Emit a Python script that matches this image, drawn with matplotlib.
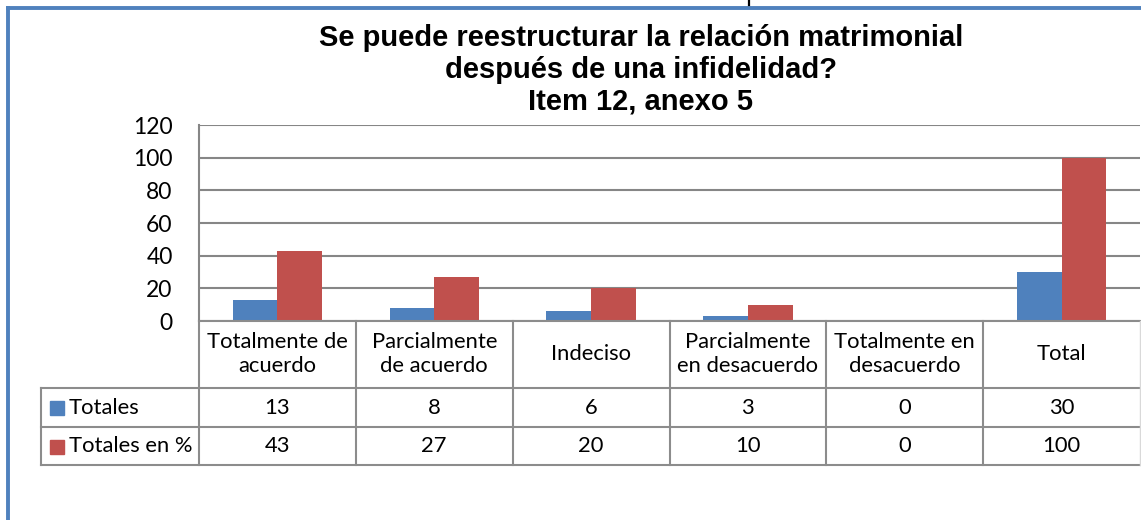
import numpy as np
import matplotlib
matplotlib.use("Agg")
import matplotlib.pyplot as plt
from matplotlib.lines import Line2D
from matplotlib.patches import Rectangle

# ---- data ----
categories = ["Totalmente de\nacuerdo", "Parcialmente\nde acuerdo", "Indeciso",
              "Parcialmente\nen desacuerdo", "Totalmente en\ndesacuerdo", "Total"]
series_names = ["Totales", "Totales en %"]
totales = [13, 8, 6, 3, 0, 30]
totales_pct = [43, 27, 20, 10, 0, 100]
yticks = [0, 20, 40, 60, 80, 100, 120]
title = "Se puede reestructurar la relación matrimonial\ndespués de una infidelidad?\nItem 12, anexo 5"

BLUE = "#4F81BD"
RED = "#C0504D"
GRID = "#868686"
TFONT = ["Lato", "DejaVu Sans"]

W, H = 1141, 520
fig = plt.figure(figsize=(W / 100, H / 100), dpi=100)

def fx(px):
    return px / W

def fy(py):
    return 1 - py / H

# plot area
left_px, right_px, top_px, bot_px = 199, 1140, 125, 321
ax = fig.add_axes([fx(left_px), fy(bot_px), fx(right_px - left_px), (bot_px - top_px) / H])
x = np.arange(len(categories))
bw = 0.285
ax.bar(x - bw / 2, totales, bw, color=BLUE, zorder=3)
ax.bar(x + bw / 2, totales_pct, bw, color=RED, zorder=3)
ax.set_xlim(-0.5, len(categories) - 0.5)
ax.set_ylim(0, 120)
ax.set_yticks(yticks)
ax.set_yticklabels([str(v) for v in yticks], fontfamily=TFONT, fontsize=16.5)
ax.set_xticks([])
ax.tick_params(axis="y", length=0, pad=19)
ax.grid(axis="y", color=GRID, lw=1.5, zorder=0)
for s in ["top", "right", "bottom"]:
    ax.spines[s].set_visible(False)
ax.spines["left"].set_color(GRID)
ax.spines["left"].set_linewidth(1.5)

# data table
cat_w = (right_px - left_px) / len(categories)
leg_w = (left_px - 41) / cat_w
tab_bot = 465
tax = fig.add_axes([fx(41), fy(tab_bot), fx(right_px - 41), (tab_bot - bot_px) / H])
tax.set_xlim(-0.5 - leg_w, len(categories) - 0.5)
row_edges = [0, 67, 106, 144]
tax.set_ylim(row_edges[-1], row_edges[0])
tax.axis("off")
lc = "#8C8C8C"
lw = 1.5
xl = -0.5 - leg_w
xr = len(categories) - 0.5
tax.add_line(Line2D([-0.5, xr], [row_edges[0]] * 2, color=lc, lw=lw, clip_on=False))
for ye in row_edges[1:]:
    tax.add_line(Line2D([xl, xr], [ye] * 2, color=lc, lw=lw, clip_on=False))
tax.add_line(Line2D([xl, xl], [row_edges[1], row_edges[3]], color=lc, lw=lw, clip_on=False))
for k in range(len(categories)):
    tax.add_line(Line2D([k - 0.5] * 2, [row_edges[0], row_edges[3]], color=lc, lw=lw, clip_on=False))
tax.add_line(Line2D([xr] * 2, [row_edges[0], row_edges[3]], color="#D9D9D9", lw=1, clip_on=False))

TS = 15.8
for i, c in enumerate(categories):
    tax.text(i, (row_edges[0] + row_edges[1]) / 2, c, ha="center", va="center",
             fontfamily=TFONT, fontsize=TS, linespacing=1.25)
for r, (name, vals, col) in enumerate([(series_names[0], totales, BLUE),
                                        (series_names[1], totales_pct, RED)]):
    yc = (row_edges[r + 1] + row_edges[r + 2]) / 2
    for i, v in enumerate(vals):
        tax.text(i, yc, str(v), ha="center", va="center", fontfamily=TFONT, fontsize=TS)
    # legend key
    fig.patches.append(Rectangle((fx(50), fy(int(row_edges[r + 1] + bot_px) + 27)), 14 / W, 14 / H,
                                 transform=fig.transFigure, color=col))
    tax.text(xl + 28 / cat_w, yc, name, ha="left", va="center", fontfamily=TFONT, fontsize=TS)

# title
fig.text(fx(641), fy(70), title, ha="center", va="center", fontfamily="Liberation Sans",
         fontweight="bold", fontsize=21, linespacing=1.17)

# outer chart border (left and top)
fig.lines.append(Line2D([fx(8), fx(8)], [0, fy(8)], transform=fig.transFigure, color=BLUE, lw=2.8))
fig.lines.append(Line2D([fx(8), 1], [fy(8), fy(8)], transform=fig.transFigure, color=BLUE, lw=2.8))
fig.lines.append(Line2D([fx(749), fx(749)], [fy(0), fy(5)], transform=fig.transFigure, color="black", lw=1.6))

fig.savefig("out.png", dpi=100)
